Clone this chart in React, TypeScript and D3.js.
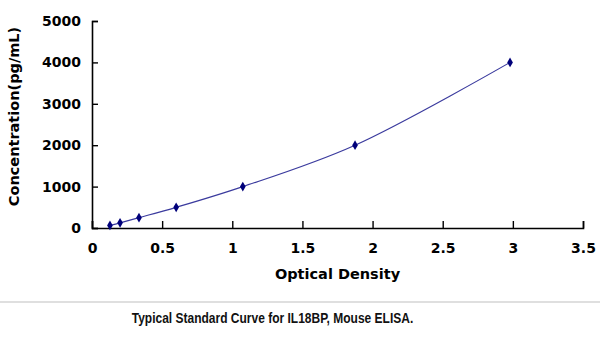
import { useEffect, useRef } from 'react';
import * as d3 from 'd3';

// standard curve points (optical density vs concentration)
const odValues = [0.128, 0.2, 0.335, 0.6, 1.075, 1.875, 2.98];
const concValues = [62.5, 125, 250, 500, 1000, 2000, 4000];
const xTicks = [0, 0.5, 1, 1.5, 2, 2.5, 3, 3.5];
const yTicks = [0, 1000, 2000, 3000, 4000, 5000];

export default function App() {
  const svgRef = useRef<SVGSVGElement>(null);

  useEffect(() => {
    if (!svgRef.current) return;
    const svg = d3.select(svgRef.current);
    svg.selectAll('*').remove();

    const width = 600;
    const height = 353;
    const margin = { top: 21, right: 17, bottom: 125, left: 92 };

    const x = d3.scaleLinear().domain([0, 3.5]).range([margin.left, width - margin.right]);
    const y = d3.scaleLinear().domain([0, 5000]).range([height - margin.bottom, margin.top]);

    svg.append('rect').attr('width', width).attr('height', height).attr('fill', '#fff');

    const font = '"DejaVu Sans", Verdana, sans-serif';

    // axes
    const xAxis = svg
      .append('g')
      .attr('transform', `translate(0,${y(0)})`)
      .call(d3.axisBottom(x).tickValues(xTicks).tickSize(-7).tickPadding(15).tickFormat((d) => String(d)));
    const yAxis = svg
      .append('g')
      .attr('transform', `translate(${x(0)},0)`)
      .call(d3.axisLeft(y).tickValues(yTicks).tickSize(-6).tickPadding(11).tickFormat((d) => String(d)));

    [xAxis, yAxis].forEach((g) => {
      g.select('.domain').attr('stroke', '#000').attr('stroke-width', 1.6);
      g.selectAll('.tick line').attr('stroke', '#000').attr('stroke-width', 1.4);
      g.selectAll('.tick text')
        .attr('fill', '#000')
        .style('font-family', font)
        .style('font-size', '14px')
        .style('font-weight', 'bold');
    });

    // smooth curve
    const pts = odValues.map((od, i) => [od, concValues[i]] as [number, number]);
    const line = d3
      .line<[number, number]>()
      .x((d) => x(d[0]))
      .y((d) => y(d[1]))
      .curve(d3.curveCatmullRom.alpha(0.5));

    svg
      .append('path')
      .datum(pts)
      .attr('fill', 'none')
      .attr('stroke', '#3b3b9e')
      .attr('stroke-width', 1.2)
      .attr('d', line);

    svg
      .selectAll('path.pt')
      .data(pts)
      .enter()
      .append('path')
      .attr('class', 'pt')
      .attr('d', d3.symbol().type(d3.symbolDiamond).size(28))
      .attr('transform', (d) => `translate(${x(d[0])},${y(d[1])})`)
      .attr('fill', '#00007a');

    // axis titles
    svg
      .append('text')
      .attr('x', (x(0) + x(3.5)) / 2)
      .attr('y', 279)
      .attr('text-anchor', 'middle')
      .style('font-family', font)
      .style('font-size', '14.5px')
      .style('font-weight', 'bold')
      .text('Optical Density');

    svg
      .append('text')
      .attr('transform', `translate(19,116.5) rotate(-90)`)
      .attr('text-anchor', 'middle')
      .style('font-family', font)
      .style('font-size', '14.5px')
      .style('font-weight', 'bold')
      .text('Concentration(pg/mL)');

    // divider and caption
    svg
      .append('line')
      .attr('x1', 0)
      .attr('x2', width)
      .attr('y1', 302)
      .attr('y2', 302)
      .attr('stroke', '#d4d4d4')
      .attr('stroke-width', 1.5);

    svg
      .append('text')
      .attr('transform', 'translate(272.5,323) scale(0.8,1)')
      .attr('text-anchor', 'middle')
      .style('font-family', '"Liberation Sans", Arial, sans-serif')
      .style('font-size', '15px')
      .style('font-weight', 'bold')
      .attr('fill', '#111')
      .text('Typical Standard Curve for IL18BP, Mouse ELISA.');
  }, []);

  return (
    <svg
      ref={svgRef}
      width={600}
      height={353}
      style={{ position: 'fixed', top: 0, left: 0, display: 'block' }}
    />
  );
}
